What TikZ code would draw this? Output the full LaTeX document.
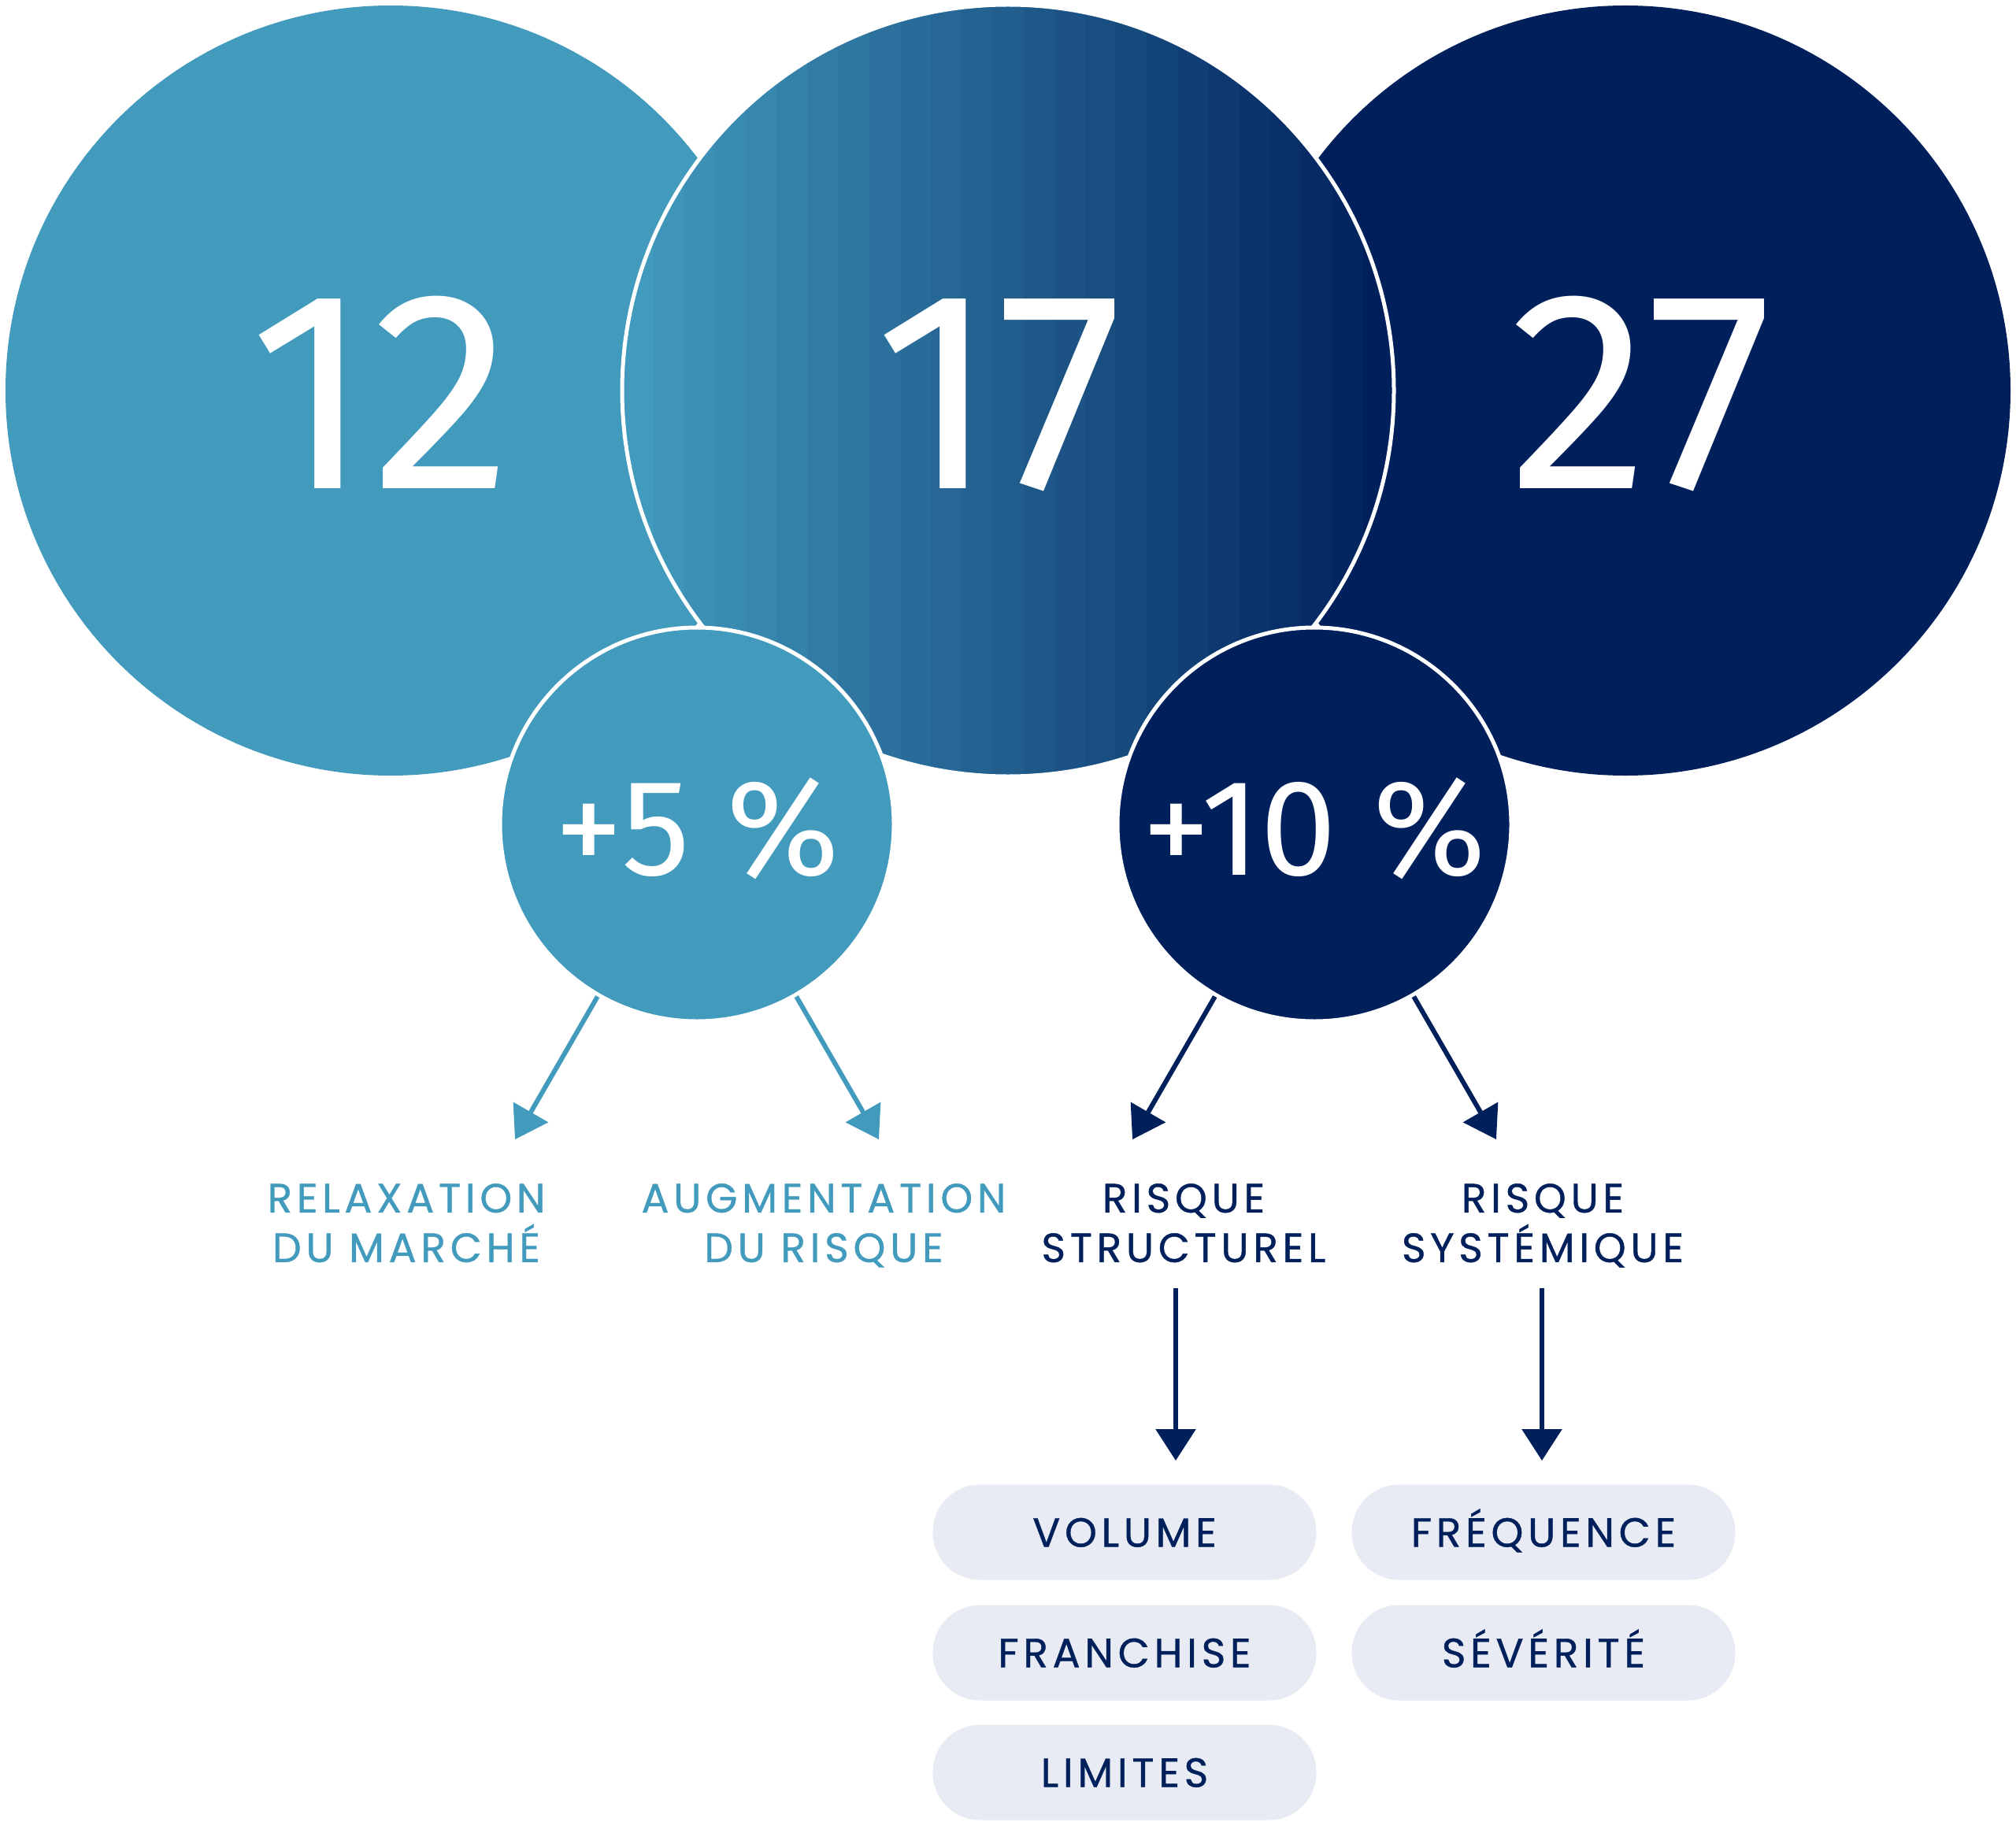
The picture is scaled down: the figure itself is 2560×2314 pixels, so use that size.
\documentclass[tikz,border=0pt]{standalone}
\usepackage{fontspec}
\usetikzlibrary{arrows.meta,calc}
\setmainfont{Poppins}
\newfontfamily\numfont{Fira Sans}
\newfontfamily\labfont[LetterSpace=11,FakeBold=0.8]{Poppins}
\definecolor{lblue}{RGB}{66,154,189}
\definecolor{navy}{RGB}{0,32,92}
\definecolor{pillc}{RGB}{232,235,243}
\tikzset{
  bigc/.style={circle, inner sep=0pt, minimum size=978pt},
  smallc/.style={circle, inner sep=0pt, minimum size=500pt, draw=white, line width=5pt},
  bignum/.style={anchor=base, inner sep=0pt, text=white, font=\numfont\fontsize{360}{360}\selectfont},
  pct/.style={anchor=base, inner sep=0pt, text=white, font=\numfont\fontsize{174}{174}\selectfont},
  lab/.style={anchor=north, inner sep=0pt, align=center, font=\labfont\fontsize{52}{63}\selectfont},
  arr/.style={line width=6pt, -{Triangle[length=40pt,width=50pt]}},
  pill/.style={rectangle, rounded corners=60pt, fill=pillc, minimum width=487pt, minimum height=121pt, inner sep=0pt, text height=37pt, text depth=0pt, text=navy, font=\labfont\fontsize{52}{63}\selectfont}
}
\begin{document}
\begin{tikzpicture}[x=1pt,y=-1pt]
\useasboundingbox[fill=white] (0,0) rectangle (2560,2314);
% big circles
\node[bigc, fill=lblue] (c1) at (496,496) {};
\node[bigc, fill=navy] (c3) at (2064,496) {};
\begin{scope}
  \clip (1280,496) circle[radius=490pt];
  \foreach \i in {0,...,24}{
    \pgfmathsetmacro\p{100*\i/24}
    \fill[navy!\p!lblue] (790+\i*39.2,0) rectangle ++(40.2,1000);
  }
\end{scope}
\node[bigc, minimum size=980pt, draw=white, line width=5pt] (c2) at (1280,496) {};
% numbers
\node[bignum] (n1) at (484,620) {12};
\node[bignum] (n2) at (1268,620) {17};
\node[bignum] (n3) at (2084,620) {27};
% small circles
\node[smallc, fill=lblue] (s1) at (885,1047) {};
\node[smallc, fill=navy] (s2) at (1669,1047) {};
\node[pct] (t1) at (885,1111) {+5\hspace{46pt}\%};
\node[pct] (t2) at (1669,1111) {+10\hspace{46pt}\%};
% arrow ends
\coordinate (a1) at ($(s1.center)+(240:462pt)$);
\coordinate (a2) at ($(s1.center)+(300:462pt)$);
\coordinate (a3) at ($(s2.center)+(240:462pt)$);
\coordinate (a4) at ($(s2.center)+(300:462pt)$);
\draw[arr, lblue] (s1.240) -- (a1);
\draw[arr, lblue] (s1.300) -- (a2);
\draw[arr, navy] (s2.240) -- (a3);
\draw[arr, navy] (s2.300) -- (a4);
% labels
\node[lab, text=lblue] (l1) at (516,1503) {RELAXATION\\DU MARCHÉ};
\node[lab, text=lblue] (l2) at (1046,1503) {AUGMENTATION\\DU RISQUE};
\node[lab, text=navy] (l3) at (1503,1503) {RISQUE\\STRUCTUREL};
\node[lab, text=navy] (l4) at (1959,1503) {RISQUE\\SYSTÉMIQUE};
% pills
\node[pill] (p1) at (1428,1946) {VOLUME};
\node[pill] (p2) at (1428,2099) {FRANCHISE};
\node[pill] (p3) at (1428,2251) {LIMITES};
\node[pill] (p4) at (1960,1946) {FRÉQUENCE};
\node[pill] (p5) at (1960,2099) {SÉVÉRITÉ};
% vertical arrows
\coordinate (v1s) at (1493,1636);
\coordinate (v1e) at (1493,1855);
\coordinate (v2s) at (1958,1636);
\coordinate (v2e) at (1958,1855);
\draw[arr, navy] (v1s) -- (v1e);
\draw[arr, navy] (v2s) -- (v2e);
\end{tikzpicture}
\end{document}
